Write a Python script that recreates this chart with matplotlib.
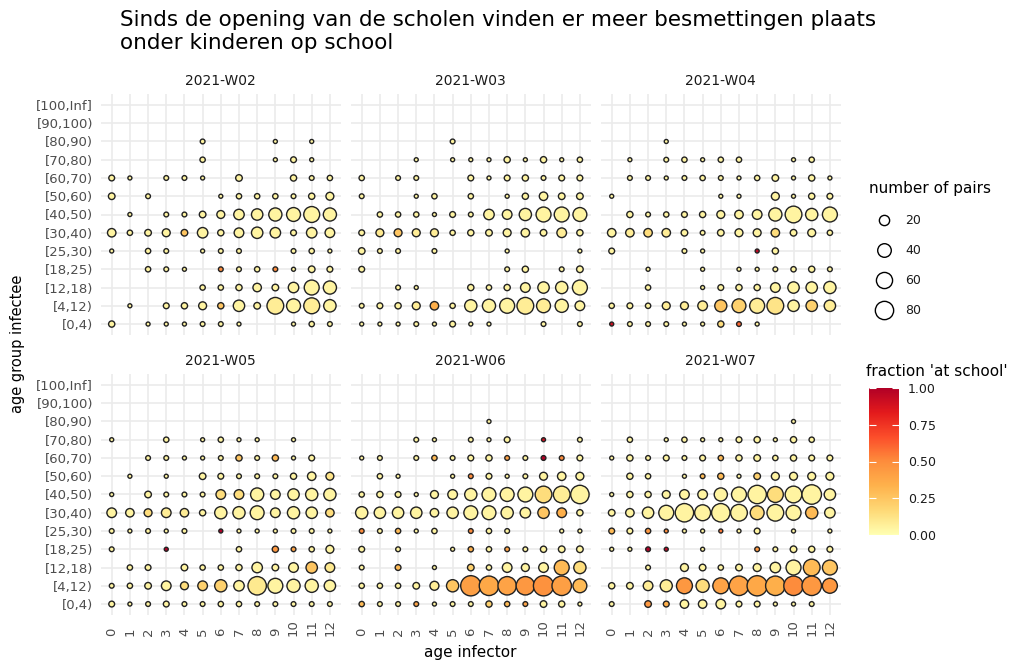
import numpy as np
import matplotlib
matplotlib.use("Agg")
import matplotlib.pyplot as plt
from matplotlib.colors import LinearSegmentedColormap

# ---------------- data ----------------
title = ("Sinds de opening van de scholen vinden er meer besmettingen plaats\n"
         "onder kinderen op school")
weeks = ["2021-W02", "2021-W03", "2021-W04", "2021-W05", "2021-W06", "2021-W07"]
age_infector = list(range(13))
# matrix rows run from top to bottom of each panel
age_groups_top_down = ["[100,Inf]", "[90,100)", "[80,90)", "[70,80)", "[60,70)", "[50,60)",
                       "[40,50)", "[30,40)", "[25,30)", "[18,25)", "[12,18)", "[4,12)", "[0,4)"]
size_breaks = [20, 40, 60, 80]
color_breaks = [0.0, 0.25, 0.5, 0.75, 1.0]

pairs_w02 = [
    [0,0,0,0,0,0,0,0,0,0,0,0,0],
    [0,0,0,0,0,0,0,0,0,0,0,0,0],
    [0,0,0,0,0,2,0,0,0,1,0,1,0],
    [0,0,0,0,0,3,0,0,0,1,4,1,0],
    [4,1,0,2,2,1,0,6,0,0,5,2,3],
    [6,0,2,0,0,0,1,3,3,3,2,5,10],
    [0,1,0,2,2,6,10,21,26,37,42,58,37],
    [12,3,6,10,6,21,5,17,26,21,4,21,17],
    [1,0,3,2,0,1,2,2,0,0,2,3,1],
    [0,0,3,2,1,0,2,2,3,2,1,6,4],
    [0,0,0,0,0,3,3,5,12,6,21,50,37],
    [0,1,0,4,5,10,5,26,6,65,42,58,32],
    [5,0,1,1,1,2,2,1,0,0,1,3,2],
]
school_pct_w02 = [
    [0,0,0,0,0,0,0,0,0,0,0,0,0],
    [0,0,0,0,0,0,0,0,0,0,0,0,0],
    [0,0,0,0,0,5,0,0,0,5,0,5,0],
    [0,0,0,0,0,5,0,0,0,5,5,5,0],
    [5,5,0,5,5,5,0,5,0,0,5,5,5],
    [5,0,5,0,0,0,5,5,5,5,5,5,5],
    [0,5,0,5,5,5,5,5,5,5,5,5,5],
    [5,5,5,5,25,5,5,5,5,5,5,5,5],
    [5,0,5,5,0,5,5,5,0,0,5,5,5],
    [0,0,5,5,5,0,50,5,5,50,5,5,5],
    [0,0,0,0,0,5,5,5,5,5,5,5,5],
    [0,5,0,5,5,5,25,5,5,8,5,8,5],
    [5,0,5,5,5,5,5,5,0,0,5,5,5],
]

pairs_w03 = [
    [0,0,0,0,0,0,0,0,0,0,0,0,0],
    [0,0,0,0,0,0,0,0,0,0,0,0,0],
    [0,0,0,0,0,2,0,0,0,0,0,0,0],
    [0,0,0,1,0,1,1,1,5,1,5,1,3],
    [3,0,2,2,0,0,4,1,4,5,2,4,4],
    [2,0,0,1,3,0,3,0,1,5,12,6,6],
    [0,3,3,3,1,4,2,21,17,31,50,50,42],
    [4,10,10,10,10,3,5,6,10,12,6,17,5],
    [6,2,2,0,2,0,0,0,1,0,0,0,1],
    [4,0,0,0,0,0,0,0,2,5,0,2,6],
    [0,0,2,1,0,0,5,3,5,17,26,31,50],
    [2,4,5,10,12,3,31,37,50,65,42,37,17],
    [1,1,1,2,1,4,1,1,0,0,2,0,2],
]
school_pct_w03 = [
    [0,0,0,0,0,0,0,0,0,0,0,0,0],
    [0,0,0,0,0,0,0,0,0,0,0,0,0],
    [0,0,0,0,0,5,0,0,0,0,0,0,0],
    [0,0,0,5,0,5,5,5,5,5,5,5,5],
    [5,0,5,5,0,0,5,5,5,5,5,5,5],
    [5,0,0,5,5,0,5,0,5,5,5,5,5],
    [0,5,5,5,5,5,5,5,5,5,5,5,5],
    [5,10,25,8,8,5,5,5,5,5,5,8,5],
    [5,5,5,0,5,0,0,0,5,0,0,0,5],
    [5,0,0,0,0,0,0,0,5,5,0,5,5],
    [0,0,5,5,0,0,5,5,5,5,5,5,5],
    [5,5,5,8,35,5,5,5,5,8,8,5,5],
    [5,5,5,5,5,5,5,5,0,0,5,0,5],
]

pairs_w04 = [
    [0,0,0,0,0,0,0,0,0,0,0,0,0],
    [0,0,0,0,0,0,0,0,0,0,0,0,0],
    [0,0,0,1,0,0,0,0,0,0,0,0,0],
    [0,1,0,2,3,1,3,3,0,0,1,3,0],
    [0,2,2,1,2,3,2,1,3,6,1,5,1],
    [1,0,0,0,0,0,1,1,0,10,1,5,4],
    [0,5,2,3,4,5,10,12,17,37,65,31,50],
    [12,12,12,12,6,2,6,10,10,12,6,10,3],
    [4,0,0,0,2,1,0,0,1,5,0,0,0],
    [0,0,1,0,0,1,0,1,1,2,3,5,2],
    [0,0,3,0,0,1,4,5,5,17,26,26,31],
    [3,4,3,10,10,17,30,42,50,65,26,26,26],
    [1,2,2,2,1,1,5,2,1,0,0,0,0],
]
school_pct_w04 = [
    [0,0,0,0,0,0,0,0,0,0,0,0,0],
    [0,0,0,0,0,0,0,0,0,0,0,0,0],
    [0,0,0,5,0,0,0,0,0,0,0,0,0],
    [0,5,0,5,5,5,5,5,0,0,5,5,0],
    [0,5,5,5,5,5,5,5,5,5,5,5,5],
    [5,0,0,0,0,0,5,5,0,5,5,5,5],
    [0,5,5,5,5,5,5,5,5,5,5,5,5],
    [5,8,15,8,5,5,5,5,5,15,5,5,5],
    [5,0,0,0,5,5,0,0,95,5,0,0,0],
    [0,0,5,0,0,5,0,5,5,5,5,5,5],
    [0,0,5,0,0,5,5,5,5,5,5,5,5],
    [5,5,5,8,8,8,25,20,8,12,5,20,8],
    [90,5,5,5,5,5,15,60,5,0,0,0,0],
]

pairs_w05 = [
    [0,0,0,0,0,0,0,0,0,0,0,0,0],
    [0,0,0,0,0,0,0,0,0,0,0,0,0],
    [0,0,0,0,0,0,0,0,0,0,0,0,0],
    [1,0,0,3,0,1,3,1,1,0,1,0,0],
    [0,0,2,2,1,1,2,5,2,5,1,4,0],
    [0,1,0,1,0,6,4,2,2,2,5,12,10],
    [1,0,6,2,2,2,17,17,37,17,26,31,31],
    [17,12,10,17,12,5,31,31,42,17,31,26,12],
    [2,1,2,1,2,0,1,1,1,1,2,2,1],
    [2,0,0,1,0,0,0,3,0,5,2,3,10],
    [0,3,4,0,6,3,3,5,21,6,17,26,17],
    [2,3,6,17,10,17,31,21,81,50,37,37,26],
    [4,1,2,4,2,2,3,3,2,2,2,2,2],
]
school_pct_w05 = [
    [0,0,0,0,0,0,0,0,0,0,0,0,0],
    [0,0,0,0,0,0,0,0,0,0,0,0,0],
    [0,0,0,0,0,0,0,0,0,0,0,0,0],
    [5,0,0,5,0,5,5,5,5,0,5,0,0],
    [0,0,5,5,5,5,5,25,5,30,5,5,0],
    [0,5,0,5,0,5,5,5,5,5,5,5,12],
    [5,0,5,5,5,5,15,15,5,5,5,5,5],
    [5,5,15,8,8,5,5,5,5,5,5,5,15],
    [5,5,5,5,5,0,100,5,5,5,5,5,5],
    [5,0,0,100,0,0,0,5,0,45,40,5,5],
    [0,5,5,0,5,5,5,5,5,5,5,25,10],
    [5,5,5,5,15,20,20,5,10,5,5,5,5],
    [5,5,5,5,5,5,5,5,5,5,5,5,5],
]

pairs_w06 = [
    [0,0,0,0,0,0,0,0,0,0,0,0,0],
    [0,0,0,0,0,0,0,0,0,0,0,0,0],
    [0,0,0,0,0,0,0,1,0,0,0,0,0],
    [0,0,0,2,1,0,2,1,4,0,1,0,2],
    [1,2,0,2,3,2,4,5,2,2,2,2,4],
    [0,3,1,0,0,1,2,4,1,2,10,12,10],
    [3,5,4,1,10,17,31,42,42,50,65,65,81],
    [31,26,26,26,12,26,42,42,31,21,26,17,5],
    [2,2,3,1,3,0,2,3,2,0,0,1,1],
    [4,0,2,0,0,1,3,3,2,2,5,6,6],
    [2,0,4,0,1,0,6,3,17,10,17,50,31],
    [3,3,3,6,14,31,100,92,81,81,100,92,42],
    [3,2,2,2,1,2,2,5,3,2,6,5,1],
]
school_pct_w06 = [
    [0,0,0,0,0,0,0,0,0,0,0,0,0],
    [0,0,0,0,0,0,0,0,0,0,0,0,0],
    [0,0,0,0,0,0,0,5,0,0,0,0,0],
    [0,0,0,5,5,0,5,5,5,0,90,0,5],
    [5,5,0,5,30,5,5,5,40,5,100,50,5],
    [0,5,5,0,0,5,50,5,5,5,5,5,5],
    [5,5,5,5,5,5,5,5,5,5,15,8,5],
    [5,5,5,5,5,5,5,5,5,5,25,35,5],
    [50,5,30,5,5,0,50,5,5,0,0,5,5],
    [5,0,5,0,0,5,35,5,40,5,5,5,5],
    [5,0,30,0,5,0,20,5,5,5,5,30,15],
    [5,5,5,5,8,25,42,38,40,45,48,42,30],
    [30,5,5,40,5,5,5,20,30,40,5,5,5],
]

pairs_w07 = [
    [0,0,0,0,0,0,0,0,0,0,0,0,0],
    [0,0,0,0,0,0,0,0,0,0,0,0,0],
    [0,0,0,0,0,0,0,0,0,0,1,0,0],
    [0,3,0,1,3,1,1,4,5,1,5,3,0],
    [1,5,2,4,2,4,3,5,6,3,5,4,4],
    [0,5,3,0,1,2,5,1,6,10,10,10,10],
    [1,5,5,10,17,17,37,50,81,58,65,92,26],
    [6,12,26,50,81,58,81,65,42,65,50,31,21],
    [4,4,3,1,1,1,1,1,4,0,1,0,1],
    [1,1,2,1,0,1,0,0,2,2,6,5,4],
    [0,0,2,0,10,6,3,6,10,21,50,65,50],
    [5,6,17,30,58,37,58,92,100,92,92,92,50],
    [2,0,6,4,12,12,17,4,4,1,1,2,0],
]
school_pct_w07 = [
    [0,0,0,0,0,0,0,0,0,0,0,0,0],
    [0,0,0,0,0,0,0,0,0,0,0,0,0],
    [0,0,0,0,0,0,0,0,0,0,5,0,0],
    [0,5,0,5,5,5,5,5,5,5,5,5,0],
    [5,5,5,5,5,5,30,5,5,5,5,5,5],
    [0,5,5,0,5,30,30,5,20,5,5,5,5],
    [5,5,5,5,5,5,5,5,5,15,5,5,5],
    [5,5,5,5,5,5,5,5,15,5,5,30,5],
    [30,5,45,50,5,5,55,5,5,0,5,0,5],
    [5,5,100,95,0,5,0,0,45,5,5,5,5],
    [0,0,5,0,5,5,5,5,5,5,5,30,25],
    [5,5,8,8,45,15,40,40,38,35,50,45,45],
    [5,0,45,35,5,5,5,5,5,5,5,5,0],
]

pairs = [pairs_w02, pairs_w03, pairs_w04, pairs_w05, pairs_w06, pairs_w07]
school_pct = [school_pct_w02, school_pct_w03, school_pct_w04,
              school_pct_w05, school_pct_w06, school_pct_w07]

# ---------------- styling ----------------
W, H = 1018, 670
FONT = "DejaVu Sans"
plt.rcParams["font.family"] = [FONT]
cmap = LinearSegmentedColormap.from_list(
    "ylorrd", ["#FFFFB2", "#FED976", "#FEB24C", "#FD8D3C", "#FC4E2A", "#E31A1C", "#B10026"])
EDGE_LW = 1.0


def bubble_area(n):
    d_px = 3.6 + 1.8 * np.sqrt(np.asarray(n, dtype=float))
    return ((d_px - EDGE_LW / 0.72) * 0.72) ** 2


def fx(px):
    return px / W


def fy(py):
    return 1 - py / H


fig = plt.figure(figsize=(W / 100, H / 100), dpi=100, facecolor="white")

lefts = [100.8, 350.8, 600.8]
tops = [94.0, 374.0]
pw, ph = 240.0, 241.0
n_rows = len(age_groups_top_down)

for k, wk in enumerate(weeks):
    r, c = divmod(k, 3)
    left, top = lefts[c], tops[r]
    ax = fig.add_axes([fx(left), fy(top + ph), fx(pw), ph / H])
    C = np.array(pairs[k])
    F = np.array(school_pct[k]) / 100.0
    rr, cc = np.nonzero(C)
    xs = np.array(age_infector)[cc]
    ys = (n_rows - 1) - rr
    ax.scatter(xs, ys, s=bubble_area(C[rr, cc]), c=F[rr, cc], cmap=cmap, vmin=0, vmax=1,
               edgecolors="#222222", linewidths=EDGE_LW, zorder=3)
    ax.set_xlim(-0.6, len(age_infector) - 0.4)
    ax.set_ylim(-0.6, n_rows - 0.4)
    ax.set_xticks(age_infector)
    ax.set_yticks(range(n_rows))
    ax.grid(True, color="#EBEBEB", linewidth=1.2)
    ax.set_axisbelow(True)
    for s in ax.spines.values():
        s.set_visible(False)
    ax.tick_params(length=0)
    ax.set_xticklabels([])
    if c == 0:
        ax.set_yticklabels(age_groups_top_down[::-1], fontsize=9.5, color="#4D4D4D")
        ax.tick_params(axis="y", pad=5.5)
    else:
        ax.set_yticklabels([])
    if r == 1:
        for xv in age_infector:
            ax.text(xv, -21.0 / ph, str(xv), transform=ax.get_xaxis_transform(),
                    rotation=90, ha="center", va="bottom", fontsize=9.5, color="#4D4D4D")
    # strip label
    fig.text(fx(left + pw / 2), fy(top - 13), wk, ha="center", va="center",
             fontsize=10, color="#1A1A1A")

# titles
fig.text(fx(120), fy(9.5), title, ha="left", va="top", fontsize=15.5, color="black",
         linespacing=1.2)
fig.text(fx(470), fy(653), "age infector", ha="center", va="center", fontsize=11)
fig.text(fx(18), fy(344), "age group infectee", ha="center", va="center",
         rotation=90, fontsize=10.5)

# size legend
leg = fig.add_axes([0, 0, 1, 1], facecolor="none")
leg.set_xlim(0, W)
leg.set_ylim(H, 0)
leg.axis("off")
fig.text(fx(869), fy(188), "number of pairs", ha="left", va="center", fontsize=11)
leg_y = [220, 250, 280, 310]
for b, yy in zip(size_breaks, leg_y):
    leg.scatter([884], [yy], s=bubble_area(b), facecolors="white", edgecolors="black",
                linewidths=EDGE_LW)
    fig.text(fx(905), fy(yy), str(b), ha="left", va="center", fontsize=9, color="#1A1A1A")

# colour legend
fig.text(fx(866), fy(371), "fraction 'at school'", ha="left", va="center", fontsize=11)
cax = fig.add_axes([fx(869), fy(535), fx(30), 147 / H])
sm = matplotlib.cm.ScalarMappable(cmap=cmap, norm=matplotlib.colors.Normalize(0, 1))
cb = fig.colorbar(sm, cax=cax, ticks=color_breaks)
cb.outline.set_visible(False)
cb.ax.set_yticklabels([f"{v:.2f}" for v in color_breaks], fontsize=9, color="#1A1A1A")
cax.tick_params(axis="y", left=True, right=True, direction="in", color="white",
                length=5, width=0.8, pad=6.5)

fig.savefig("out.png", dpi=100, facecolor="white")
